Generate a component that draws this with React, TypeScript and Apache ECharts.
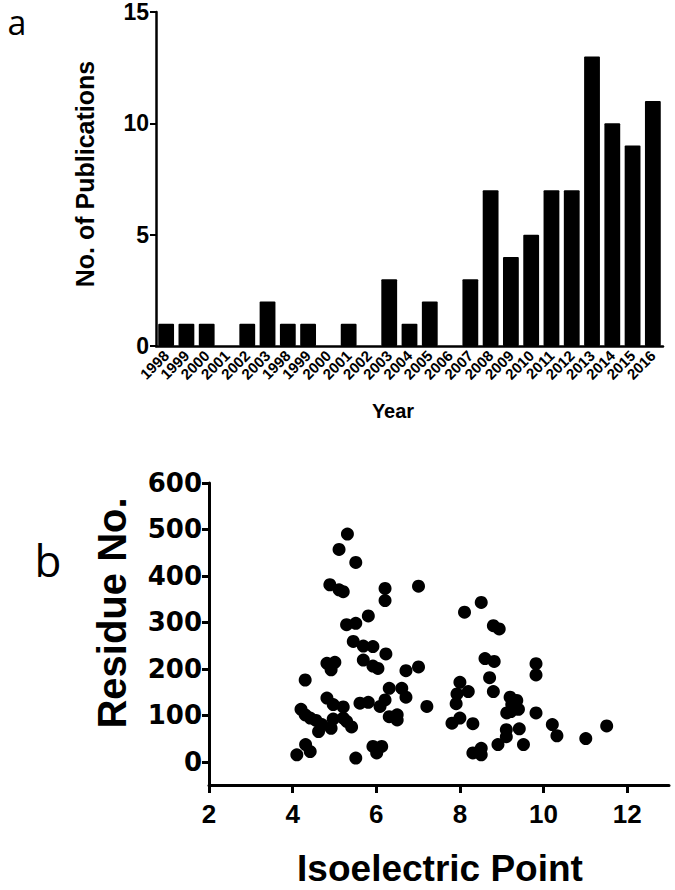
import React, { useEffect, useRef } from "react";
import * as echarts from "echarts";

const yearLabels = ["1998","1999","2000","2001","2002","2003","1998","1999","2000","2001","2002","2003","2004","2005","2006","2007","2008","2009","2010","2011","2012","2013","2014","2015","2016"];
const publications = [1,1,1,0,1,2,1,1,0,1,0,3,1,2,0,3,7,4,5,7,7,13,10,9,11];
const residueTicks = [0,100,200,300,400,500,600];
const pITicks = [2,4,6,8,10,12];

const pIValues = [
  5.31,5.11,5.51,4.89,5.11,5.21,6.21,6.21,7.01,5.81,5.29,5.51,5.45,5.69,5.92,6.23,5.69,5.92,6.04,4.82,
  5.01,4.92,6.71,7.01,4.30,6.31,6.61,6.71,4.82,7.21,5.61,5.81,6.21,6.09,4.97,5.21,4.20,4.30,4.42,4.56,
  4.70,4.62,4.92,4.97,5.21,5.29,5.41,6.31,6.50,6.50,4.10,4.31,4.42,5.51,5.92,6.13,6.01,
  8.51,8.11,8.80,8.94,8.60,8.82,9.82,9.82,8.71,8.00,8.20,7.93,8.80,7.91,9.20,9.36,9.24,9.40,9.12,9.22,
  9.82,7.81,8.00,8.31,9.11,9.11,9.42,8.91,9.52,10.21,10.32,11.01,11.51,8.31,8.51,8.51
];
const residueValues = [
  490,457,429,381,370,366,373,347,378,314,295,298,259,249,248,232,219,206,201,212,
  214,198,196,204,176,158,158,139,137,119,126,128,133,119,123,118,113,101,94,89,
  80,65,72,92,94,87,75,97,101,90,15,37,22,8,33,33,19,
  343,322,293,286,222,216,211,187,181,171,151,146,151,125,139,132,123,113,105,108,
  105,83,94,82,69,54,71,37,37,80,56,50,77,19,29,15
];

const FONT = "'Liberation Sans', Arial, sans-serif";
const WIDE = "'DejaVu Sans', 'Liberation Sans', sans-serif";

export default function App() {
  const ref = useRef<HTMLDivElement>(null);
  useEffect(() => {
    document.body.style.margin = "0";
    if (!ref.current) return;
    const chart = echarts.init(ref.current, undefined, { renderer: "svg" });
    const points = pIValues.map((x, i) => [x, residueValues[i]]);
    chart.setOption({
      animation: false,
      backgroundColor: "#ffffff",
      grid: [
        { left: 156, top: 12, right: 12, bottom: 544 },
        { left: 209, top: 483, right: 6, bottom: 105 },
      ],
      xAxis: [
        {
          gridIndex: 0,
          type: "category",
          data: yearLabels,
          boundaryGap: true,
          axisLine: { lineStyle: { color: "#000", width: 2.5 } },
          axisTick: { alignWithLabel: true, length: 6, lineStyle: { color: "#000", width: 2 } },
          axisLabel: { interval: 0, rotate: 45, fontSize: 15, fontWeight: "bold", color: "#000", fontFamily: FONT, margin: 7 },
        },
        {
          gridIndex: 1,
          type: "value",
          min: 2,
          max: 13,
          splitLine: { show: false },
          axisLine: { onZero: false, lineStyle: { color: "#000", width: 3 } },
          axisTick: { customValues: pITicks, length: 8, lineStyle: { color: "#000", width: 3 } },
          axisLabel: { customValues: pITicks, fontSize: 26, fontWeight: "bold", color: "#000", fontFamily: FONT, margin: 16 },
        },
      ],
      yAxis: [
        {
          gridIndex: 0,
          type: "value",
          min: 0,
          max: 15,
          interval: 5,
          splitLine: { show: false },
          axisLine: { show: true, lineStyle: { color: "#000", width: 2.5 } },
          axisTick: { show: true, length: 6, lineStyle: { color: "#000", width: 2 } },
          axisLabel: { fontSize: 23, fontWeight: "bold", color: "#000", fontFamily: FONT, margin: 7 },
        },
        {
          gridIndex: 1,
          type: "value",
          min: -50,
          max: 600,
          splitLine: { show: false },
          axisLine: { show: true, onZero: false, lineStyle: { color: "#000", width: 3 } },
          axisTick: { show: true, customValues: residueTicks, length: 7, lineStyle: { color: "#000", width: 3 } },
          axisLabel: { customValues: residueTicks, fontSize: 26, fontWeight: "bold", color: "#000", fontFamily: WIDE, margin: 7 },
        },
      ],
      series: [
        {
          type: "bar",
          xAxisIndex: 0,
          yAxisIndex: 0,
          data: publications,
          barCategoryGap: "22%",
          itemStyle: { color: "#000", borderRadius: 1 },
        },
        {
          type: "scatter",
          xAxisIndex: 1,
          yAxisIndex: 1,
          data: points,
          symbolSize: 13,
          itemStyle: { color: "#000", opacity: 1 },
        },
      ],
      graphic: [
        { type: "text", x: 17, y: 22, style: { text: "a", fontSize: 34, lineHeight: 34, fontFamily: "'Open Sans', sans-serif", fill: "#000", textAlign: "center", textVerticalAlign: "middle" } },
        { type: "text", x: 48, y: 560, style: { text: "b", font: "44px 'Open Sans', sans-serif", fill: "#000", textAlign: "center", textVerticalAlign: "middle" } },
        { type: "text", x: 85, y: 174, rotation: Math.PI / 2, style: { text: "No. of Publications", font: `bold 25px ${FONT}`, fill: "#000", textAlign: "center", textVerticalAlign: "middle" } },
        { type: "text", x: 393, y: 411, style: { text: "Year", font: `bold 20px ${FONT}`, fill: "#000", textAlign: "center", textVerticalAlign: "middle" } },
        { type: "text", x: 112, y: 613, rotation: Math.PI / 2, style: { text: "Residue No.", font: `bold 40px ${FONT}`, fill: "#000", textAlign: "center", textVerticalAlign: "middle" } },
        { type: "text", x: 440, y: 868, style: { text: "Isoelectric Point", font: `bold 37px ${FONT}`, fill: "#000", textAlign: "center", textVerticalAlign: "middle" } },
      ],
    });
    return () => chart.dispose();
  }, []);
  return <div ref={ref} style={{ width: 675, height: 890 }} />;
}
